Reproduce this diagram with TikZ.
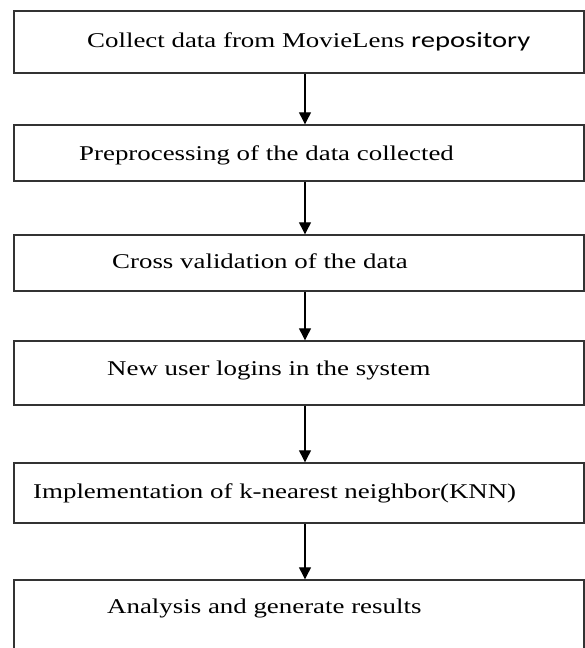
\documentclass[tikz,border=0pt]{standalone}
\usepackage{fontspec}
\setmainfont[FakeStretch=1.28]{Liberation Serif}
\newfontfamily\calibrifont[FakeStretch=1.3]{Carlito}
\usetikzlibrary{arrows.meta}

\begin{document}
\begin{tikzpicture}[x=1pt,y=-1pt,
    stage/.style={draw=black!80, line width=1.4pt, minimum width=570pt, inner sep=0pt},
    lbl/.style={anchor=base west, inner sep=0pt, font=\fontsize{21}{24}\selectfont},
    flow/.style={-{Triangle[length=12pt,width=12pt]}, line width=1.2pt}]
    \useasboundingbox (0,0) rectangle (585,648);
    \clip (0,0) rectangle (585,648);

    % boxes
    \node[stage, minimum height=62pt] (collect) at (299,42) {};
    \node[stage, minimum height=56pt] (preproc) at (299,153) {};
    \node[stage, minimum height=56pt] (crossval) at (299,263) {};
    \node[stage, minimum height=64pt] (login) at (299,373) {};
    \node[stage, minimum height=60pt] (knn) at (299,493) {};
    \node[stage, minimum height=90pt] (analysis) at (299,625) {};

    % texts
    \node[lbl] (collect-t) at (87,47) {Collect data from MovieLens {\calibrifont\fontsize{22}{24}\selectfont repository}};
    \node[lbl] (preproc-t) at (79,160) {Preprocessing of the data collected};
    \node[lbl] (crossval-t) at (112,268) {Cross validation of the data};
    \node[lbl] (login-t) at (107,375) {New user logins in the system};
    \node[lbl] (knn-t) at (33,498) {Implementation of k-nearest neighbor(KNN)};
    \node[lbl] (analysis-t) at (107,613) {Analysis and generate results};

    % arrows
    \draw[flow] ([xshift=6pt]collect.south) -- ([xshift=6pt]preproc.north);
    \draw[flow] ([xshift=6pt]preproc.south) -- ([xshift=6pt]crossval.north);
    \draw[flow] ([xshift=6pt]crossval.south) -- ([xshift=6pt]login.north);
    \draw[flow] ([xshift=6pt]login.south) -- ([xshift=6pt]knn.north);
    \draw[flow] ([xshift=6pt]knn.south) -- ([xshift=6pt]analysis.north);
\end{tikzpicture}
\end{document}
